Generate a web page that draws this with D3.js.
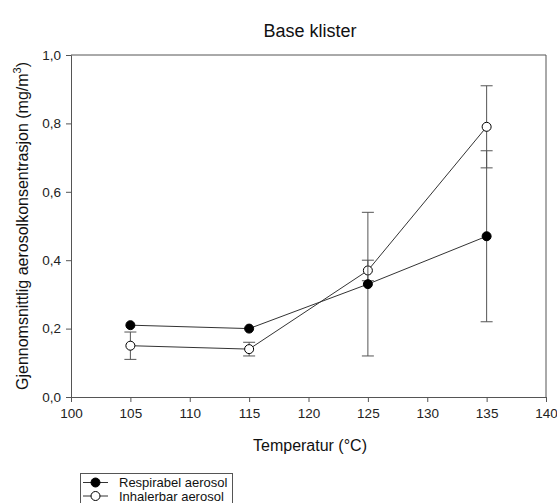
<!DOCTYPE html>
<html><head><meta charset="utf-8">
<script src="https://cdn.jsdelivr.net/npm/d3@7"></script>
<style>body{margin:0;background:#fff;}svg{display:block;font-family:"Liberation Sans",Arial,sans-serif;}</style>
</head><body><div id="chart"></div>
<script>
const temperatures = [105, 115, 125, 135];
const respirabelMean = [0.21, 0.20, 0.33, 0.47];
const respirabelErr = [0.0, 0.0, 0.21, 0.25];
const inhalerbarMean = [0.15, 0.14, 0.37, 0.79];
const inhalerbarErr = [0.04, 0.02, 0.03, 0.12];
const xTicks = [100, 105, 110, 115, 120, 125, 130, 135, 140];
const yTicks = [0, 0.2, 0.4, 0.6, 0.8, 1.0];
const seriesNames = ["Respirabel aerosol", "Inhalerbar aerosol"];

const W = 557, H = 503;
const svg = d3.select("#chart").append("svg").attr("width", W).attr("height", H);
const x = d3.scaleLinear().domain([100, 140]).range([71, 546]);
const y = d3.scaleLinear().domain([0, 1]).range([397, 55]);
const fmt = d => d3.format(".1f")(d).replace(".", ",");
const axisColor = "#555";

// frame
svg.append("line").attr("x1", 71).attr("x2", 546).attr("y1", 55).attr("y2", 55).attr("stroke", axisColor);
svg.append("line").attr("x1", 546).attr("x2", 546).attr("y1", 55).attr("y2", 397).attr("stroke", axisColor);

const gx = svg.append("g").attr("transform", "translate(0,397)")
  .call(d3.axisBottom(x).tickValues(xTicks).tickSize(5).tickPadding(6).tickFormat(d3.format("d")));
const gy = svg.append("g").attr("transform", "translate(71,0)")
  .call(d3.axisLeft(y).tickValues(yTicks).tickSize(5).tickPadding(5).tickFormat(fmt));
[gx, gy].forEach(g => {
  g.select(".domain").attr("stroke", axisColor);
  g.selectAll(".tick line").attr("stroke", axisColor);
  g.selectAll("text").attr("font-size", 13.5).attr("fill", "#222").attr("font-family", "Liberation Sans, Arial, sans-serif");
});

function drawSeries(means, errs, filled) {
  const data = temperatures.map((t, i) => ({t, m: means[i], e: errs[i]}));
  const g = svg.append("g");
  data.filter(d => d.e > 0).forEach(d => {
    g.append("line").attr("x1", x(d.t)).attr("x2", x(d.t)).attr("y1", y(d.m - d.e)).attr("y2", y(d.m + d.e)).attr("stroke", "#555");
    [d.m - d.e, d.m + d.e].forEach(v => g.append("line").attr("x1", x(d.t) - 6).attr("x2", x(d.t) + 6).attr("y1", y(v)).attr("y2", y(v)).attr("stroke", "#555"));
  });
  g.append("path").datum(data).attr("fill", "none").attr("stroke", "#333").attr("stroke-width", 1)
    .attr("d", d3.line().x(d => x(d.t)).y(d => y(d.m)));
  g.selectAll("circle").data(data).join("circle").attr("cx", d => x(d.t)).attr("cy", d => y(d.m)).attr("r", 4.5)
    .attr("fill", filled ? "#000" : "#fff").attr("stroke", "#000").attr("stroke-width", 1);
}
drawSeries(inhalerbarMean, inhalerbarErr, false);
drawSeries(respirabelMean, respirabelErr, true);

svg.append("text").attr("x", 310).attr("y", 37).attr("text-anchor", "middle").attr("font-size", 18).attr("fill", "#111").text("Base klister");
svg.append("text").attr("x", 310).attr("y", 451).attr("text-anchor", "middle").attr("font-size", 16).attr("fill", "#111").text("Temperatur (°C)");
const yl = svg.append("text").attr("transform", "translate(28,226) rotate(-90)").attr("text-anchor", "middle").attr("font-size", 16).attr("fill", "#111");
yl.append("tspan").text("Gjennomsnittlig aerosolkonsentrasjon (mg/m");
yl.append("tspan").attr("dy", -7).attr("font-size", 11).text("3");
yl.append("tspan").attr("dy", 7).text(")");

// legend
const lg = svg.append("g");
lg.append("rect").attr("x", 80.5).attr("y", 473.5).attr("width", 152).attr("height", 40).attr("fill", "#fff").attr("stroke", "#555");
seriesNames.forEach((name, i) => {
  const yy = 482.5 + i * 13.5;
  lg.append("line").attr("x1", 83).attr("x2", 108).attr("y1", yy).attr("y2", yy).attr("stroke", "#333");
  lg.append("circle").attr("cx", 95.5).attr("cy", yy).attr("r", 4.5).attr("fill", i === 0 ? "#000" : "#fff").attr("stroke", "#000");
  lg.append("text").attr("x", 119).attr("y", yy + 4.5).attr("font-size", 13).attr("fill", "#111").text(name);
});
</script></body></html>
